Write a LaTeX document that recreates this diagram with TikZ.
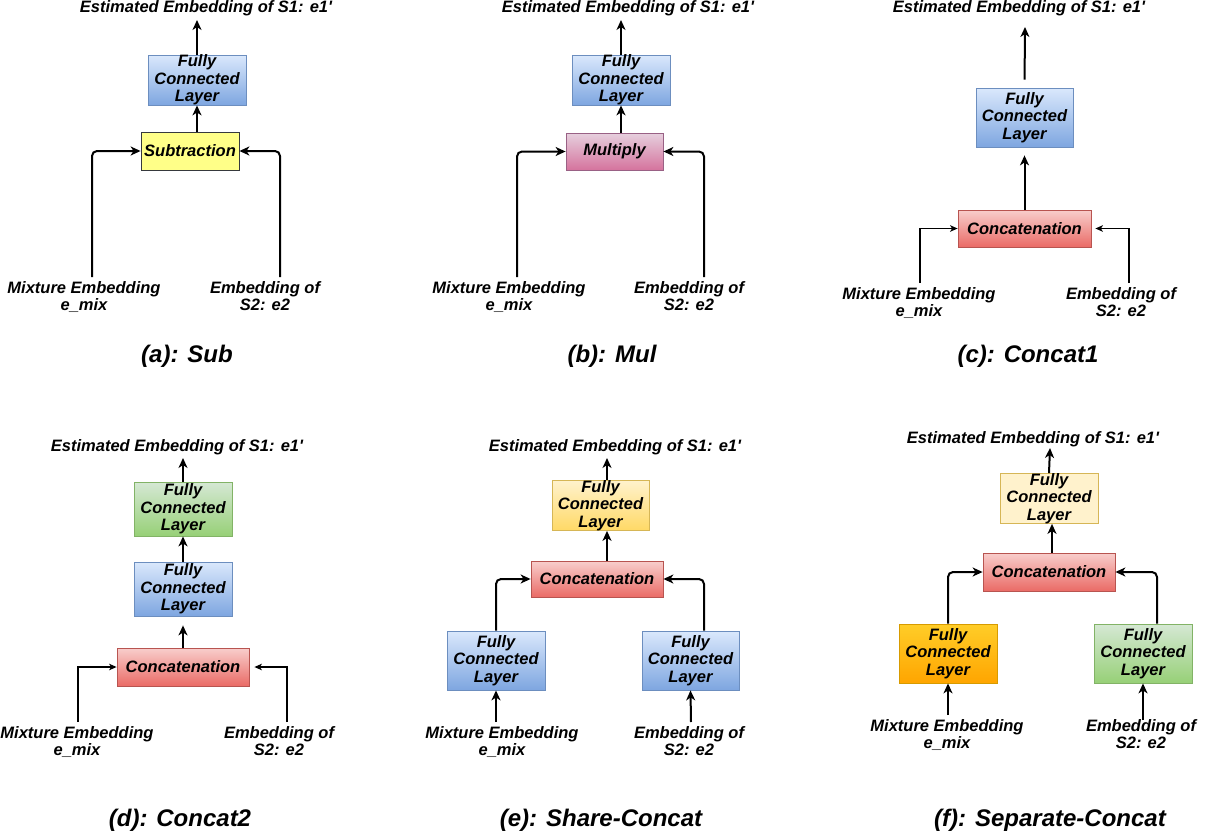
\documentclass[tikz,border=0pt]{standalone}
\usepackage{fontspec}
\setmainfont{Liberation Sans}
\usetikzlibrary{arrows.meta,positioning}

\definecolor{blueTop}{HTML}{DAE8FC}
\definecolor{blueBot}{HTML}{7EA6E0}
\definecolor{blueLine}{HTML}{6C8EBF}
\definecolor{subFill}{HTML}{FFFF88}
\definecolor{subLine}{HTML}{36393D}
\definecolor{pinkTop}{HTML}{E6D0DE}
\definecolor{pinkBot}{HTML}{D5739D}
\definecolor{pinkLine}{HTML}{996185}
\definecolor{redTop}{HTML}{F8CECC}
\definecolor{redBot}{HTML}{EA6B66}
\definecolor{redLine}{HTML}{B85450}
\definecolor{greenTop}{HTML}{D5E8D4}
\definecolor{greenBot}{HTML}{97D077}
\definecolor{greenLine}{HTML}{82B366}
\definecolor{yelTop}{HTML}{FFF2CC}
\definecolor{yelBot}{HTML}{FFD966}
\definecolor{yelLine}{HTML}{D6B656}
\definecolor{orTop}{HTML}{FFCD28}
\definecolor{orBot}{HTML}{FFA500}
\definecolor{orLine}{HTML}{D79B00}

\newcommand{\lblfont}{\fontsize{16.5}{17.3}\selectfont\bfseries\itshape}
\newcommand{\capfont}{\fontsize{24}{28}\selectfont\bfseries\itshape}
\newcommand{\fcl}{Fully\\Connected\\Layer}
\newcommand{\estl}{Estimated Embedding of S1: e1\textquotesingle}

\tikzset{
    box/.style={draw, line width=0.8pt, align=center, font=\lblfont, inner sep=0pt},
    fcblue/.style={box, top color=blueTop, bottom color=blueBot, draw=blueLine},
    fcgreen/.style={box, top color=greenTop, bottom color=greenBot, draw=greenLine},
    fcyel/.style={box, top color=yelTop, bottom color=yelBot, draw=yelLine},
    fcpale/.style={box, fill=yelTop, draw=yelLine},
    fcorange/.style={box, top color=orTop, bottom color=orBot, draw=orLine},
    subbox/.style={box, fill=subFill, draw=subLine},
    mulbox/.style={box, top color=pinkTop, bottom color=pinkBot, draw=pinkLine},
    catbox/.style={box, top color=redTop, bottom color=redBot, draw=redLine},
    lbl/.style={font=\lblfont, align=center, inner sep=3pt, anchor=north},
    est/.style={font=\lblfont, inner sep=0pt, anchor=base},
    caption/.style={font=\capfont, inner sep=0pt, anchor=base},
    link/.style={-{Stealth[length=10pt,width=9pt,inset=3pt]}, line width=2pt, rounded corners=5pt},
    thinlink/.style={-{Stealth[length=7.5pt,width=6.5pt,inset=2pt]}, line width=1.3pt},
}

\begin{document}
\begin{tikzpicture}[x=1pt, y=-1pt]
    \useasboundingbox (0,0) rectangle (1211,838);

    % (a) Sub
    \node[est] (estA) at (206,12) {\estl};
    \coordinate (outA) at (197,20);
    \node[fcblue, minimum width=98pt, minimum height=50pt] (fcA) at (197,80) {\fcl};
    \node[subbox, minimum width=98pt, minimum height=38pt] (subA) at (190,151) {Subtraction};
    \node[lbl] (mixA) at (84,278) {Mixture Embedding\\e\_mix};
    \node[lbl] (embA) at (265,278) {Embedding of\\S2: e2};
    \coordinate (inA1) at (92,277);
    \coordinate (inA2) at (280,277);
    \node[caption] (capA) at (187,362) {(a): Sub};
    \draw[link] (fcA.north) -- (outA);
    \draw[link] (fcA.south |- subA.north) -- (fcA.south);
    \draw[link] (inA1) |- (subA.west);
    \draw[link] (inA2) |- (subA.east);

    % (b) Mul
    \node[est] (estB) at (628,12) {\estl};
    \coordinate (outB) at (621,20);
    \node[fcblue, minimum width=98pt, minimum height=50pt] (fcB) at (621,80) {\fcl};
    \node[mulbox, minimum width=97pt, minimum height=37pt] (mulB) at (614.5,151.5) {Multiply};
    \node[lbl] (mixB) at (509,278) {Mixture Embedding\\e\_mix};
    \node[lbl] (embB) at (689,278) {Embedding of\\S2: e2};
    \coordinate (inB1) at (517,277);
    \coordinate (inB2) at (704,277);
    \node[caption] (capB) at (612,362) {(b): Mul};
    \draw[link] (fcB.north) -- (outB);
    \draw[link] (fcB.south |- mulB.north) -- (fcB.south);
    \draw[link] (inB1) |- (mulB.west);
    \draw[link] (inB2) |- (mulB.east);

    % (c) Concat1
    \node[est] (estC) at (1019,12) {\estl};
    \coordinate (outC) at (1025,27);
    \node[fcblue, minimum width=97pt, minimum height=59pt] (fcC) at (1024.5,117.5) {\fcl};
    \node[catbox, minimum width=133pt, minimum height=37pt] (catC) at (1024.5,228.5) {Concatenation};
    \node[lbl] (mixC) at (919,284) {Mixture Embedding\\e\_mix};
    \node[lbl] (embC) at (1121,284) {Embedding of\\S2: e2};
    \coordinate (inC1) at (920,283);
    \coordinate (inC2) at (1129,283);
    \node[caption] (capC) at (1028,362) {(c): Concat1};
    \draw[link, shorten <=8pt] (fcC.north) -- (outC);
    \draw[link, shorten >=8pt] (catC.north) -- (fcC.south);
    \draw[thinlink] (inC1) |- (catC.west);
    \draw[thinlink, shorten >=4pt] (inC2) |- (catC.east);

    % (d) Concat2
    \node[est] (estD) at (177,451) {\estl};
    \coordinate (outD) at (183,458);
    \node[fcgreen, minimum width=98pt, minimum height=54pt] (fcD2) at (183,509) {\fcl};
    \node[fcblue, minimum width=98pt, minimum height=54pt] (fcD1) at (183,589) {\fcl};
    \node[catbox, minimum width=132pt, minimum height=38pt] (catD) at (183,667) {Concatenation};
    \node[lbl] (mixD) at (77,723) {Mixture Embedding\\e\_mix};
    \node[lbl] (embD) at (279,723) {Embedding of\\S2: e2};
    \coordinate (inD1) at (78,722);
    \coordinate (inD2) at (287,722);
    \node[caption] (capD) at (180,826) {(d): Concat2};
    \draw[link] (fcD2.north) -- (outD);
    \draw[link] (fcD1.north) -- (fcD2.south);
    \draw[link, shorten >=9pt] (catD.north) -- (fcD1.south);
    \draw[thinlink] (inD1) |- (catD.west);
    \draw[thinlink, shorten >=5pt] (inD2) |- (catD.east);

    % (e) Share-Concat
    \node[est] (estE) at (615,451) {\estl};
    \coordinate (outE) at (607,458);
    \node[fcyel, minimum width=97pt, minimum height=49pt] (fcE3) at (600.5,505.5) {\fcl};
    \node[catbox, minimum width=132pt, minimum height=36pt] (catE) at (597,579) {Concatenation};
    \node[fcblue, minimum width=98pt, minimum height=59pt] (fcE1) at (496,660.5) {\fcl};
    \node[fcblue, minimum width=97pt, minimum height=59pt] (fcE2) at (690.5,660.5) {\fcl};
    \node[lbl] (mixE) at (502,723) {Mixture Embedding\\e\_mix};
    \node[lbl] (embE) at (689,723) {Embedding of\\S2: e2};
    \coordinate (inE1) at (496,722);
    \coordinate (inE2) at (691,722);
    \node[caption] (capE) at (601,826) {(e): Share-Concat};
    \draw[link] (outE |- fcE3.north) -- (outE);
    \draw[link] (catE.north -| outE) -- (fcE3.south -| outE);
    \draw[link] (fcE1.north) |- (catE.west);
    \draw[link] ([xshift=13.5pt]fcE2.north) |- (catE.east);
    \draw[link] (inE1) -- (fcE1.south);
    \draw[link] (inE2) -- (fcE2.south);

    % (f) Separate-Concat
    \node[est] (estF) at (1033,443) {\estl};
    \coordinate (outF) at (1050,448);
    \node[fcpale, minimum width=98pt, minimum height=49pt] (fcF3) at (1049,498.5) {\fcl};
    \node[catbox, minimum width=132pt, minimum height=38pt] (catF) at (1049,572) {Concatenation};
    \node[fcorange, minimum width=98pt, minimum height=59pt] (fcF1) at (948,653.5) {\fcl};
    \node[fcgreen, minimum width=98pt, minimum height=59pt] (fcF2) at (1143,653.5) {\fcl};
    \node[lbl] (mixF) at (947,716) {Mixture Embedding\\e\_mix};
    \node[lbl] (embF) at (1141,716) {Embedding of\\S2: e2};
    \coordinate (inF1) at (948,715);
    \coordinate (inF2) at (1143,720);
    \node[caption] (capF) at (1050,826) {(f): Separate-Concat};
    \draw[link] (fcF3.north) -- (outF);
    \draw[link] ([xshift=3pt]catF.north) -- ([xshift=3pt]fcF3.south);
    \draw[link] (fcF1.north) |- (catF.west);
    \draw[link] ([xshift=14pt]fcF2.north) |- (catF.east);
    \draw[link] (inF1) -- (fcF1.south);
    \draw[link] (inF2) -- (fcF2.south);
\end{tikzpicture}
\end{document}
